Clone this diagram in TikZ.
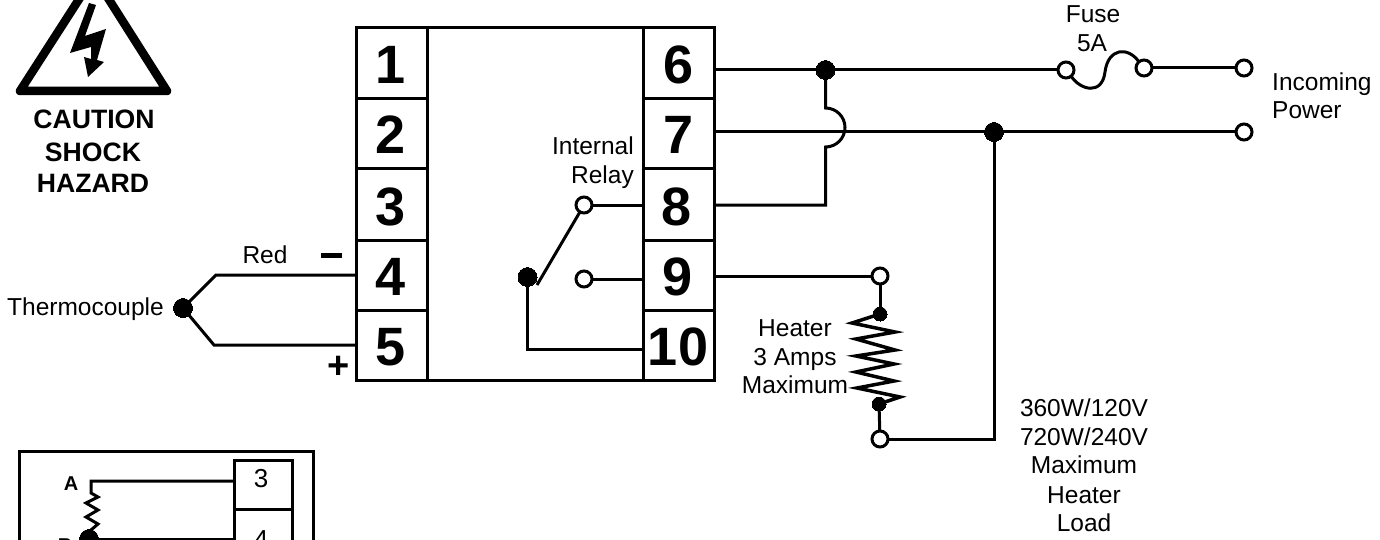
\documentclass[tikz,border=0pt]{standalone}
\usepackage{fontspec}
\setmainfont{Liberation Sans}
\tikzset{
  wire/.style={line width=3pt,line join=miter},
  boxline/.style={line width=3pt},
  dot/.style={circle,fill=black,draw=black,line width=0pt,minimum size=19pt,inner sep=0pt,outer sep=0pt},
  sdot/.style={circle,fill=black,draw=black,line width=0pt,minimum size=14pt,inner sep=0pt,outer sep=0pt},
  term/.style={circle,fill=white,draw=black,line width=3pt,minimum size=16pt,inner sep=0pt,outer sep=0pt},
  lab/.style={font=\fontsize{24.5}{28}\selectfont,anchor=base,inner sep=0pt},
  num/.style={font=\fontsize{54}{56}\selectfont\bfseries,anchor=base,inner sep=0pt},
  captxt/.style={font=\fontsize{26.6}{32}\selectfont\bfseries,anchor=base,inner sep=0pt}
}
\begin{document}
\begin{tikzpicture}[x=1pt,y=-1pt]
\useasboundingbox (0,0) rectangle (1380,540);
\clip (0,0) rectangle (1380,540);
% warning triangle
\draw[line width=8.5pt,line join=round] (20,91) -- (94,-24) -- (167,91) -- cycle;
\fill (89,3) -- (96,5) -- (85,36) -- (106,29) -- (97,60) -- (104,62) -- (88,77) -- (84,57) -- (91,59) -- (91,47) -- (70,53) -- cycle;
\node[captxt] (caution) at (94,129) {CAUTION};
\node[captxt] (shock) at (93,162) {SHOCK};
\node[captxt] (hazard) at (93,193) {HAZARD};
% main block
\draw[boxline] (356,28) rectangle (714,380);
\draw[boxline] (427,28) -- (427,380) (643,28) -- (643,380);
\draw[boxline] (356,99) -- (427,99) (356,169) -- (427,169) (356,240) -- (427,240) (356,310) -- (427,310);
\draw[boxline] (643,99) -- (714,99) (643,169) -- (714,169) (643,240) -- (714,240) (643,310) -- (714,310);
\node[num] (n1) at (391,84) {1};
\node[num] (n2) at (391,154) {2};
\node[num] (n3) at (391,225) {3};
\node[num] (n4) at (391,295) {4};
\node[num] (n5) at (391,365) {5};
\node[num] (n6) at (679,84) {6};
\node[num] (n7) at (679,154) {7};
\node[num] (n8) at (677,225) {8};
\node[num] (n9) at (678,295) {9};
\node[num] (n10) at (678,365) {10};
\coordinate (p4) at (356,275);
\coordinate (p5) at (356,345);
\coordinate (p6) at (714,70);
\coordinate (p7) at (714,132);
\coordinate (p8) at (714,205);
\coordinate (p9) at (714,276);
\coordinate (q8) at (643,205);
\coordinate (q9) at (643,279);
\coordinate (q10) at (643,349);
% thermocouple
\node[dot] (tc) at (183,308) {};
\coordinate (t1) at (216,275);
\coordinate (t2) at (214,345);
\draw[wire] (tc) -- (t1) -- (p4);
\draw[wire] (tc) -- (t2) -- (p5);
\node[lab,anchor=base east] (tclab) at (164,315) {Thermocouple};
\node[lab] (red) at (265,263) {Red};
\draw[line width=4.5pt] (321,255.5) -- (342,255.5);
\node[font=\fontsize{38}{38}\selectfont\bfseries,inner sep=0pt] (plus) at (339,367) {+};
% relay
\node[term] (r8) at (584,205) {};
\node[term] (r9) at (584,279) {};
\node[dot] (r0) at (527.5,277) {};
\draw[wire] (r8) -- (q8);
\draw[wire] (r9) -- (q9);
\draw[wire] (r8) -- (537,285);
\draw[wire] (r0) -- (527.5,349) -- (q10);
\node[lab,anchor=base east] (rl1) at (634,155) {Internal};
\node[lab,anchor=base east] (rl2) at (634,183) {Relay};
% power wires
\node[dot] (j6) at (825.5,70) {};
\node[dot] (j7) at (994,132) {};
\node[term] (f1) at (1066,70) {};
\node[term] (f2) at (1144,68) {};
\node[term] (in1) at (1244,68) {};
\node[term] (in2) at (1244,132) {};
\draw[wire] (p6) -- (j6) -- (f1);
\draw[wire] (p7) -- (j7) -- (in2);
\draw[wire] (f2) -- (in1);
\draw[wire] (j6) -- (825.5,108) arc (-90:90:19.5) -- (825.5,205) -- (p8);
\draw[wire] (1071,76) .. controls (1080,90) and (1102,96) .. (1105,72) .. controls (1108,48) and (1128,46) .. (1139,62);
\node[lab] (fuse) at (1093,23) {Fuse};
\node[lab] (a5) at (1092,52) {5A};
\node[lab,anchor=base west] (inc) at (1272,91) {Incoming};
\node[lab,anchor=base west] (pow) at (1272,119) {Power};
% heater
\node[term] (h1) at (880,276) {};
\node[term] (h2) at (880,439) {};
\node[sdot] (h3) at (880,314) {};
\node[sdot] (h4) at (879,404) {};
\draw[wire] (p9) -- (h1) -- (h3);
\draw[wire] (h4) -- (h2);
\draw[wire] (h2) -- (994,439) -- (j7);
\draw[line width=3.5pt] (h3) -- (852,323) -- (895,332) -- (856,339) -- (895,350) -- (856,356) -- (894,364) -- (856,372) -- (894,381) -- (857,388) -- (900,397) -- (h4);
\node[lab] (he1) at (795,336) {Heater};
\node[lab] (he2) at (795,365) {3 Amps};
\node[lab] (he3) at (795,393) {Maximum};
\node[lab] (w1) at (1084,416) {360W/120V};
\node[lab] (w2) at (1084,445) {720W/240V};
\node[lab] (w3) at (1084,473) {Maximum};
\node[lab] (w4) at (1084,503) {Heater};
\node[lab] (w5) at (1084,531) {Load};
% inset
\draw[boxline] (19,451) rectangle (313,560);
\draw[boxline] (234,460) rectangle (292,560);
\draw[boxline] (234,509) -- (292,509);
\node[font=\fontsize{26}{26}\selectfont,inner sep=0pt,anchor=base] (i3) at (261,487) {3};
\node[font=\fontsize{26}{26}\selectfont,inner sep=0pt,anchor=base] (i4) at (261,548) {4};
\node[font=\fontsize{20}{20}\selectfont\bfseries,inner sep=0pt,anchor=base] (ia) at (71,490) {A};
\node[font=\fontsize{20}{20}\selectfont\bfseries,inner sep=0pt,anchor=base] (ib) at (65,552) {B};
\node[dot] (idot) at (89,539) {};
\coordinate (it3) at (234,481);
\coordinate (it4) at (234,539);
\coordinate (ia1) at (91,481);
\draw[wire] (it3) -- (ia1) -- (91,493) -- (98,497) -- (86,503) -- (98,510) -- (86,517) -- (98,524) -- (91,530) -- (idot);
\draw[wire] (idot) -- (it4);
\end{tikzpicture}
\end{document}
